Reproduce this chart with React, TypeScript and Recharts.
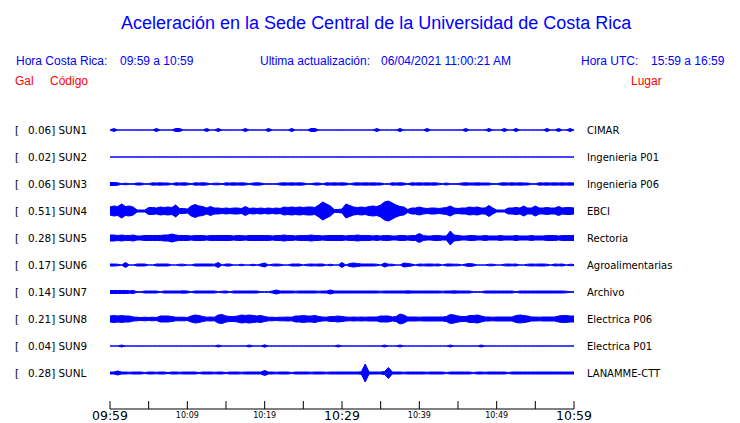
import React from 'react';
import { ComposedChart, Area, XAxis, YAxis } from 'recharts';

const CODES = ['SUN1', 'SUN2', 'SUN3', 'SUN4', 'SUN5', 'SUN6', 'SUN7', 'SUN8', 'SUN9', 'SUNL'];
const PEAK_GAL = ['0.06', '0.02', '0.06', '0.51', '0.28', '0.17', '0.14', '0.21', '0.04', '0.28'];
const PLACES = [
  'CIMAR', 'Ingenieria P01', 'Ingenieria P06', 'EBCI', 'Rectoria',
  'Agroalimentarias', 'Archivo', 'Electrica P06', 'Electrica P01', 'LANAMME-CTT',
];

// minutes after 09:59
const TICK_MINUTES = [0, 5, 10, 15, 20, 25, 30, 35, 40, 45, 50, 55, 60];
const TICK_LABELS: Record<number, string> = {
  0: '09:59', 10: '10:09', 20: '10:19', 30: '10:29', 40: '10:39', 50: '10:49', 60: '10:59',
};
const MAJOR_TICKS = [0, 30, 60];

// one sample every half minute
const SAMPLE_MINUTES = Array.from({ length: 121 }, (_, k) => k * 0.5);

// envelope half-amplitude of each trace, in pixels
const SUN1 = [
  0, 1.5, 0, 0, 0, 0, 0, 0, 0, 0,
  0, 0, 1.5, 0, 0, 0, 0, 1.5, 1.5, 0,
  0, 0, 0, 0, 0, 1.5, 0, 0, 1.5, 0,
  0, 0, 0, 0, 0, 1.5, 0, 0, 0, 0,
  0, 1.5, 0, 0, 0, 0, 0, 1.5, 0, 0,
  0, 0, 1.5, 1.5, 0, 0, 0, 0, 0, 0,
  0, 0, 0, 0, 0, 0, 0, 0, 0, 1.5,
  0, 0, 0, 0, 0, 1.5, 0, 0, 0, 0,
  0, 0, 1.5, 0, 0, 0, 0, 0, 0, 0,
  0, 0, 1.5, 0, 0, 0, 0, 0, 1.5, 0,
  0, 0, 1.5, 0, 0, 1.5, 0, 0, 0, 0,
  0, 0, 0, 1.5, 0, 0, 1.5, 0, 0, 1.5,
  0,
];
const SUN2 = [
  0, 0, 0, 0, 0, 0, 0, 0, 0, 0,
  0, 0, 0, 0, 0, 0, 0, 0, 0, 0,
  0, 0, 0, 0, 0, 0, 0, 0, 0, 0,
  0, 0, 0, 0, 0, 0, 0, 0, 0, 0,
  0, 0, 0, 0, 0, 0, 0, 0, 0, 0,
  0, 0, 0, 0, 0, 0, 0, 0, 0, 0,
  0, 0, 0, 0, 0, 0, 0, 0, 0, 0,
  0, 0, 0, 0, 0, 0, 0, 0, 0, 0,
  0, 0, 0, 0, 0, 0, 0, 0, 0, 0,
  0, 0, 0, 0, 0, 0, 0, 0, 0, 0,
  0, 0, 0, 0, 0, 0, 0, 0, 0, 0,
  0, 0, 0, 0, 0, 0, 0, 0, 0, 0,
  0,
];
const SUN3 = [
  1.5, 1.5, 1.2, 0.3, 0.8, 0.3, 0.3, 1, 1, 0.3,
  0.3, 1.2, 1, 1.2, 1, 1, 0.3, 1.2, 1, 1.2,
  1, 0.3, 1.2, 1, 1.2, 1, 0.3, 0.8, 0.8, 0.3,
  1.2, 1, 1.2, 1, 1.2, 1, 0.3, 1, 1.2, 1,
  0.3, 0.3, 0.3, 0.3, 1, 1.2, 1, 1.2, 1, 1.2,
  1, 0.3, 0.3, 1, 1, 0.3, 1.2, 1, 1.2, 1,
  1.2, 1, 0.3, 1, 1.2, 1, 1.2, 1, 1.2, 1,
  1, 0.3, 0.3, 1.2, 1, 1.2, 1, 0.3, 1.2, 1,
  1.2, 1, 1.2, 1, 1.2, 0.8, 0.3, 1, 0.3, 0.3,
  0.3, 1, 1.2, 1, 1, 1.2, 1, 1, 1, 0.3,
  0.3, 1, 1.2, 1, 1.2, 1, 1.2, 1, 1, 0.3,
  0.3, 1.2, 1, 1.2, 1, 1.2, 1, 1.2, 1, 1.2,
  1,
];
const SUN4 = [
  4, 5, 4.5, 7, 4.5, 5, 4, 1, 1, 1,
  3.5, 3.5, 3, 4, 3.5, 4, 3.5, 6, 2.5, 2.5,
  2, 5, 6.5, 5, 4.5, 3, 4.5, 3, 3, 2.5,
  3, 2.5, 3, 3, 2.5, 4.5, 2.5, 3, 2.5, 3,
  2.5, 3, 2.5, 3, 2.5, 4, 3.5, 4, 3.5, 4,
  3.5, 4, 4, 3.5, 6, 9, 7, 5, 1.5, 1.5,
  2, 7, 5.5, 4, 3.5, 4, 3.5, 4.5, 5, 4.5,
  6, 9, 10, 8, 6, 4.5, 4, 1.5, 3, 3,
  4, 3, 2.5, 3, 3, 2.5, 3, 3.5, 5, 3,
  2.5, 3, 3, 4, 3.5, 4, 3, 3, 5.5, 3,
  1, 1, 1, 3, 3, 3.5, 3, 5, 3, 3,
  5, 3, 3, 3.5, 3, 3, 4.5, 3, 3.5, 3.5,
  3,
];
const SUN5 = [
  3, 3, 2.5, 3, 2.5, 2.5, 3, 2, 2, 2.5,
  2.5, 2.5, 2.5, 2.5, 3, 3, 4, 3, 2.5, 2.5,
  2.5, 2, 2.5, 2.5, 2.5, 2, 2.5, 2.5, 2.5, 2.5,
  2.5, 2.5, 2, 2.5, 2.5, 2, 2.5, 2.5, 2.5, 2.5,
  2.5, 2.5, 2, 2.5, 2.5, 3, 2.5, 2.5, 2, 2.5,
  2.5, 2.5, 3, 2.5, 2.5, 2, 2.5, 2.5, 2.5, 2.5,
  2.5, 2, 2.5, 2.5, 3, 2.5, 2.5, 2.5, 2, 2.5,
  2, 2.5, 2.5, 2, 2, 2.5, 2.5, 2, 2.5, 2.5,
  4.5, 2.5, 2, 2, 2.5, 2.5, 2, 2, 7, 3,
  2.5, 2, 2, 2.5, 2.5, 2, 2, 2.5, 2, 2,
  2, 2.5, 2, 2, 2, 2.5, 2, 2, 2, 2.5,
  2, 2, 2, 2.5, 2.5, 2.5, 2, 2.5, 2.5, 2.5,
  2.5,
];
const SUN6 = [
  1, 1, 0.8, 0, 2.5, 0, 0, 1, 1, 1,
  0, 0, 1, 1, 1, 1, 0, 0, 0.8, 0.8,
  0, 0, 1, 1, 1, 1, 1, 0.8, 2.5, 0,
  1, 1, 0, 0, 0.8, 0, 0, 0.8, 0, 1,
  2, 0, 0.8, 1, 0.8, 0, 0, 1, 1, 1,
  0, 0.8, 1, 0.8, 1, 1, 0, 0.8, 0, 0,
  2.5, 0, 1.5, 2, 1.5, 1, 1, 1, 1, 0.8,
  0, 2, 0.8, 0.8, 0, 0, 2, 1.5, 1, 0,
  1, 0.8, 1, 1, 0.8, 1, 0, 1, 1, 0.8,
  0.8, 0, 1, 1.5, 1, 0, 0, 0, 0.8, 0.8,
  0, 0, 0.8, 1, 0.8, 1, 0, 0, 0.8, 1,
  0.8, 1, 1, 0.8, 0, 1, 0.8, 1, 0, 0.8,
  0.5,
];
const SUN7 = [
  1.5, 1.5, 1.5, 1.5, 1.5, 1.2, 1.5, 0.3, 0.3, 1,
  1, 1, 1, 0.3, 1, 1, 1, 1, 1, 1.2,
  1, 0.3, 1, 1, 1, 1, 1, 1, 0.3, 0.8,
  1, 0.3, 1, 1, 1, 1, 1, 1, 1, 0.3,
  0.3, 0.3, 1, 2, 1, 1, 1, 1, 0.8, 1,
  1, 1, 1, 1, 0.8, 1, 1, 2, 1, 1,
  1, 1, 1, 1, 1, 1, 1, 1, 1, 1,
  0.8, 1, 1, 1, 1, 1, 1, 1.2, 1, 1,
  1, 1, 1, 1, 1, 1, 0.8, 1, 1, 1.2,
  1, 1, 1, 1, 0.3, 0.3, 0.3, 1, 1, 1,
  1, 1, 1, 1, 1, 0.3, 1, 1, 1, 1,
  1, 1, 1, 1, 1, 1, 1, 1, 0.8, 0.3,
  0.3,
];
const SUN8 = [
  3, 3.5, 3, 3.5, 3, 3, 2, 1.8, 1.5, 1.8,
  1.5, 1.8, 1.5, 3, 3, 3, 2.5, 1.8, 1.8, 1.8,
  1.5, 3, 4, 3.5, 2.5, 1.8, 2, 1.8, 4, 4.5,
  3, 2.5, 2.5, 3, 4, 3.5, 4, 3.5, 3, 3.5,
  2.5, 1.8, 1.8, 1.5, 1.8, 1.8, 2, 1.8, 3, 3,
  3.5, 3, 3, 3.5, 2.5, 2, 1.8, 2.5, 2.5, 3,
  2.5, 2, 1.8, 2, 1.8, 2, 1.8, 2, 2, 2,
  3, 3, 3, 2, 2.5, 5, 4, 2, 2, 2,
  1.8, 2, 2, 2, 2, 2, 2, 2.5, 4.5, 4,
  3, 2.5, 2.5, 3.5, 3.5, 4, 3, 2, 2, 1.8,
  2, 2, 2, 2, 2, 3.5, 4, 3.5, 3, 2,
  2, 1.8, 2, 2, 2, 2, 3, 3.5, 3.5, 3,
  3,
];
const SUN9 = [
  0, 0, 0, 1, 0, 0, 0, 0, 0, 0,
  0, 0, 0, 0, 0, 0, 0, 0, 0, 0,
  0, 0, 0, 0, 0, 0, 0, 0, 1, 0,
  0, 0, 0, 0, 0, 0, 1, 0, 0, 0,
  1.2, 0, 0, 0, 0, 0, 0, 0, 0, 0,
  0, 0, 0, 0, 0, 0, 0, 0, 0, 1,
  0, 0, 0, 0, 0, 0, 0, 0, 0, 0,
  0, 1, 0, 0, 0, 1, 0, 0, 0, 0,
  0, 0, 0, 0, 0, 0, 0, 0, 1, 0,
  0, 0, 0, 0, 0, 0, 1, 0, 0, 0,
  0, 0, 0, 0, 0, 0, 0, 0, 0, 0,
  0, 0, 0, 0, 0, 0, 0, 0, 0, 0,
  0,
];
const SUNL = [
  1, 1, 2, 1, 1, 0.8, 1, 1, 1, 0.5,
  1, 1, 0.8, 1, 1, 0.5, 1, 1, 0.8, 1,
  1, 1, 1, 0.5, 1, 1, 1, 0.8, 1, 1,
  0.5, 1, 1, 1, 0.8, 1, 1, 1, 1, 1,
  2.5, 1, 1, 0.8, 1, 1, 1, 0.5, 1, 1,
  1, 1, 0.8, 1, 1, 1, 0.8, 1, 1, 1,
  1, 1, 1, 1, 1, 1.2, 9, 1, 1, 1,
  1, 1.5, 5.5, 1, 1, 1, 0.8, 1, 1, 1,
  1, 1, 0.8, 1, 1, 1, 1, 0.5, 1, 1,
  1, 1, 1, 1, 0.5, 1, 1, 0.8, 1, 1,
  1, 1, 1, 0.5, 1, 1, 1, 1, 1, 1,
  1, 1, 1, 1, 1, 1, 1, 1, 1, 1,
  1,
];
const TRACES = [SUN1, SUN2, SUN3, SUN4, SUN5, SUN6, SUN7, SUN8, SUN9, SUNL];

const W = 740;
const H = 423;
const PLOT_LEFT = 110;
const PLOT_RIGHT = 574;
const PLOT_TOP = 110;
const AXIS_Y = 409;
const ROW_PX = 27; // distance between traces
const FIRST_ROW = 130;
const Y_MIN = (PLOT_TOP - FIRST_ROW) / ROW_PX;
const Y_MAX = (AXIS_Y - FIRST_ROW) / ROW_PX;
const BLUE = '#0000ff';

const chartData = SAMPLE_MINUTES.map((t, k) => {
  const row: Record<string, any> = { t };
  TRACES.forEach((amp, i) => {
    const a = amp[k] / ROW_PX;
    row[CODES[i]] = [i - a, i + a];
  });
  return row;
});

const rowY = (i: number) => FIRST_ROW + i * ROW_PX;

const TimeTick = (props: any) => {
  const { x, y, payload } = props;
  const m = payload.value;
  const label = TICK_LABELS[m];
  const major = MAJOR_TICKS.includes(m);
  return (
    <g>
      <line x1={x} x2={x} y1={y - 8} y2={y} stroke="#000" />
      {label && (
        <text
          x={x}
          y={y + (major ? 10.5 : 9)}
          textAnchor="middle"
          fontSize={major ? 12.5 : 8}
          fontFamily="DejaVu Sans"
          fill="#000"
        >
          {label}
        </text>
      )}
    </g>
  );
};

export default function App() {
  const sans = 'Liberation Sans, Arial, sans-serif';
  const dejavu = 'DejaVu Sans, sans-serif';
  return (
    <div style={{ position: 'absolute', left: 0, top: 0, width: W, height: H, background: '#fff' }}>
      <ComposedChart
        width={W}
        height={H}
        data={chartData}
        margin={{ top: PLOT_TOP, right: W - PLOT_RIGHT, bottom: 0, left: PLOT_LEFT }}
      >
        <XAxis
          dataKey="t"
          type="number"
          domain={[0, 60]}
          ticks={TICK_MINUTES}
          interval={0}
          height={H - AXIS_Y}
          tickSize={0}
          tickMargin={0}
          tickLine={false}
          axisLine={{ stroke: '#000' }}
          tick={<TimeTick />}
        />
        <YAxis hide type="number" reversed domain={[Y_MIN, Y_MAX]} allowDataOverflow />
        {CODES.map((code) => (
          <Area
            key={code}
            dataKey={code}
            type="linear"
            stroke={BLUE}
            strokeWidth={1}
            fill={BLUE}
            fillOpacity={1}
            dot={false}
            activeDot={false}
            isAnimationActive={false}
          />
        ))}
      </ComposedChart>

      <svg
        width={W}
        height={H}
        style={{ position: 'absolute', left: 0, top: 0, pointerEvents: 'none' }}
      >
        <text x={121} y={29} fontSize={18} fontFamily={sans} fill={BLUE}>
          Aceleración en la Sede Central de la Universidad de Costa Rica
        </text>

        <g fontSize={12} fontFamily={sans} fill={BLUE}>
          <text x={16} y={65}>Hora Costa Rica:</text>
          <text x={120} y={65}>09:59 a 10:59</text>
          <text x={260} y={65}>Ultima actualización:</text>
          <text x={381} y={65}>06/04/2021 11:00:21 AM</text>
          <text x={581} y={65}>Hora UTC:</text>
          <text x={651} y={65}>15:59 a 16:59</text>
        </g>
        <g fontSize={12} fontFamily={sans} fill="#ff0000">
          <text x={15} y={85}>Gal</text>
          <text x={50} y={85}>Código</text>
          <text x={631} y={85}>Lugar</text>
        </g>

        <g fontSize={10.4} fontFamily={dejavu} fill="#000">
          {CODES.map((code, i) => (
            <g key={code}>
              <text x={15} y={rowY(i) + 4}>[</text>
              <text x={28} y={rowY(i) + 4}>{`${PEAK_GAL[i]}] ${code}`}</text>
            </g>
          ))}
        </g>
        <g fontSize={10} fontFamily={dejavu} fill="#000">
          {PLACES.map((p, i) => (
            <text key={p} x={587} y={rowY(i) + 4}>{p}</text>
          ))}
        </g>
      </svg>
    </div>
  );
}
